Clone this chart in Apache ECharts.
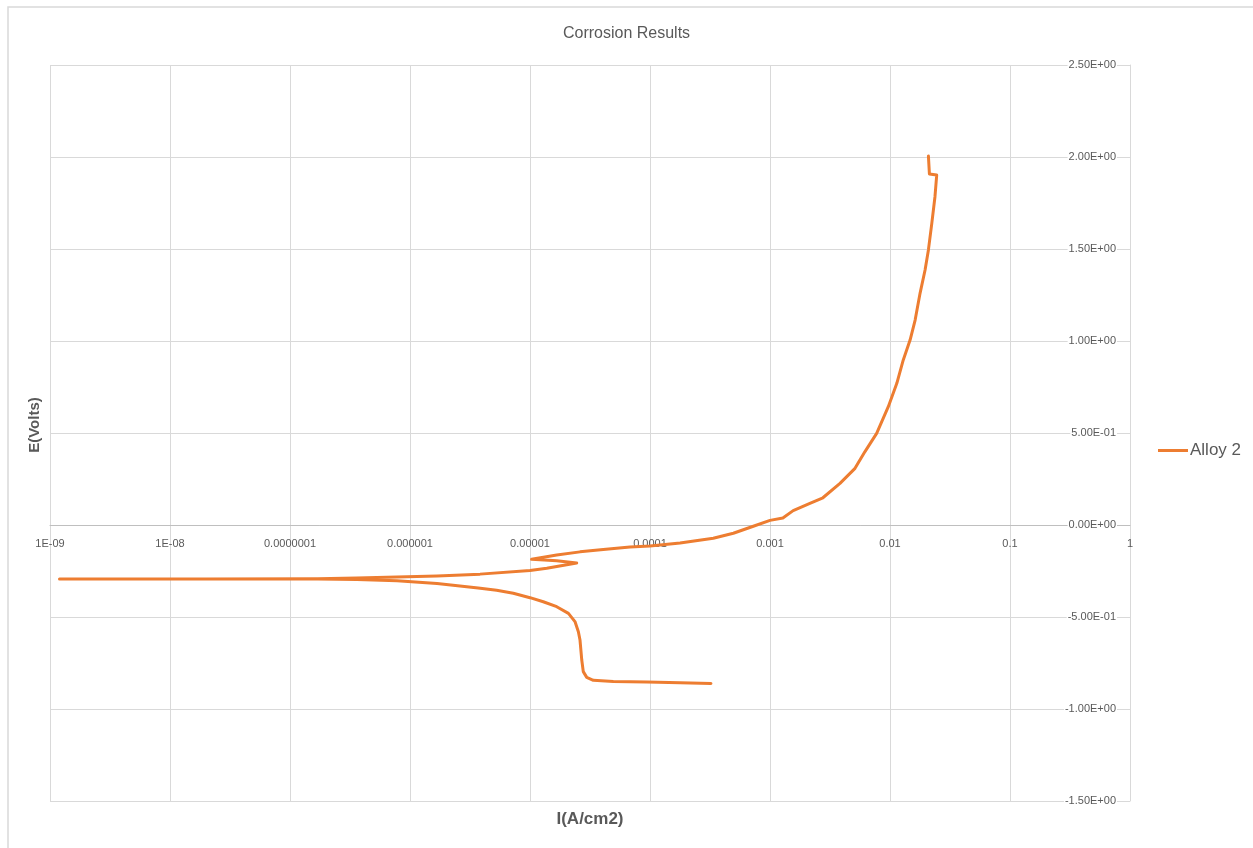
<!DOCTYPE html>
<html>
<head>
<meta charset="utf-8">
<title>Corrosion Results</title>
<script src="https://cdn.jsdelivr.net/npm/echarts@6/dist/echarts.min.js"></script>
<style>
  html, body { margin: 0; padding: 0; background: #fff; }
  #chart { width: 1253px; height: 848px; }
</style>
</head>
<body>
<div id="chart"></div>
<script>
// Potentiodynamic polarization scan, in sweep order (cathodic end -> anodic end)
const current = [
  3.22e-4, 1.78e-4, 9.4e-5, 4.95e-5, 3.37e-5, 2.97e-5, 2.78e-5, 2.70e-5, 2.61e-5, 2.53e-5,
  2.37e-5, 2.09e-5, 1.67e-5, 1.29e-5, 1.0e-5, 7.26e-6, 5.27e-6, 3.7e-6, 1.68e-6, 7.8e-7,
  3.6e-7, 1.7e-7, 2.0e-8, 1.2e-9,
  2.0e-8, 1.7e-7, 3.6e-7, 1.68e-6, 3.83e-6, 1.0e-5, 1.38e-5, 2.45e-5, 1.67e-5, 1.03e-5,
  1.67e-5, 2.61e-5, 4.08e-5, 6.81e-5, 1.0e-4, 1.78e-4, 3.37e-4, 4.95e-4, 7.26e-4, 1.0e-3,
  1.28e-3, 1.56e-3, 2.15e-3, 2.76e-3, 3.83e-3, 5.11e-3, 6.19e-3, 7.74e-3, 9.68e-3, 1.14e-2,
  1.29e-2, 1.47e-2, 1.62e-2, 1.78e-2, 1.96e-2, 2.09e-2, 2.23e-2, 2.37e-2, 2.45e-2, 2.13e-2,
  2.09e-2
];
const potential = [
  -0.861, -0.857, -0.853, -0.850, -0.844, -0.828, -0.797, -0.734, -0.625, -0.580,
  -0.525, -0.480, -0.444, -0.417, -0.395, -0.371, -0.355, -0.342, -0.318, -0.303,
  -0.296, -0.294, -0.294, -0.294,
  -0.293, -0.292, -0.288, -0.277, -0.267, -0.247, -0.235, -0.206, -0.194, -0.186,
  -0.163, -0.146, -0.133, -0.120, -0.114, -0.098, -0.072, -0.045, -0.007, 0.025,
  0.038, 0.078, 0.118, 0.148, 0.226, 0.308, 0.399, 0.498, 0.643, 0.770,
  0.897, 1.005, 1.114, 1.259, 1.386, 1.495, 1.639, 1.784, 1.902, 1.908,
  2.005
];
const seriesName = 'Alloy 2';

// Axis tick labels
const xTickLabels = ['1E-09', '1E-08', '0.0000001', '0.000001', '0.00001', '0.0001', '0.001', '0.01', '0.1', '1'];
const yTickValues = [-1.5, -1.0, -0.5, 0.0, 0.5, 1.0, 1.5, 2.0, 2.5];
const yTickLabels = ['-1.50E+00', '-1.00E+00', '-5.00E-01', '0.00E+00', '5.00E-01', '1.00E+00', '1.50E+00', '2.00E+00', '2.50E+00'];

const points = current.map((c, i) => [c, potential[i]]);

const textColor = '#595959';
const gridColor = '#d9d9d9';
const font = '"Liberation Sans", Arial, sans-serif';

const gridTop = 65, gridBottom = 47, chartHeight = 848;
const yMin = -1.5, yMax = 2.5;
// the current axis crosses the potential axis at 0 V
const plotHeight = chartHeight - gridTop - gridBottom;
const xAxisOffset = -Math.round(plotHeight * (0 - yMin) / (yMax - yMin));

const chart = echarts.init(document.getElementById('chart'), null, { renderer: 'canvas' });
chart.setOption({
  animation: false,
  backgroundColor: '#ffffff',
  textStyle: { fontFamily: font },
  title: {
    text: 'Corrosion Results',
    left: 'center',
    top: 21,
    textStyle: { fontSize: 16, fontWeight: 'normal', color: textColor, fontFamily: font }
  },
  grid: { left: 50, right: 123, top: gridTop, bottom: gridBottom },
  legend: {
    orient: 'vertical',
    left: 1153,
    top: 437,
    itemWidth: 30,
    itemHeight: 3,
    itemGap: 4,
    textStyle: { fontSize: 17, color: textColor, fontFamily: font, padding: [0, 0, 0, -3] },
    data: [{ name: seriesName, icon: 'rect' }]
  },
  xAxis: {
    type: 'log',
    logBase: 10,
    min: 1e-9,
    max: 1,
    splitNumber: 9,
    position: 'bottom',
    offset: xAxisOffset,
    axisLine: { onZero: false, lineStyle: { color: '#bfbfbf', width: 1 } },
    axisTick: { show: false },
    axisLabel: {
      fontSize: 11,
      color: textColor,
      margin: 13,
      showMinLabel: true,
      showMaxLabel: true,
      formatter: function (v) {
        const e = Math.round(Math.log10(v));
        return xTickLabels[e + 9] !== undefined ? xTickLabels[e + 9] : '';
      }
    },
    splitLine: { show: true, lineStyle: { color: gridColor, width: 1 } }
  },
  yAxis: {
    type: 'value',
    position: 'right',
    min: yMin,
    max: yMax,
    interval: 0.5,
    axisLine: { show: true, onZero: false, lineStyle: { color: gridColor, width: 1 } },
    axisTick: { show: false },
    axisLabel: {
      inside: true,
      fontSize: 11,
      color: textColor,
      margin: 13,
      backgroundColor: '#ffffff',
      padding: [0, 1, 0, 1],
      formatter: function (v) {
        const i = yTickValues.findIndex(t => Math.abs(t - v) < 1e-6);
        return i >= 0 ? yTickLabels[i] : '';
      }
    },
    splitLine: { show: true, lineStyle: { color: gridColor, width: 1 } }
  },
  graphic: [
    {
      type: 'rect',
      silent: true,
      shape: { x: 8, y: 7, width: 1300, height: 900 },
      style: { fill: 'none', stroke: gridColor, lineWidth: 1.5 },
      z: -1
    },
    {
      type: 'text',
      x: 35,
      y: 425,
      rotation: Math.PI / 2,
      style: {
        text: 'E(Volts)',
        fill: textColor,
        font: 'bold 15px ' + font,
        textAlign: 'center',
        textVerticalAlign: 'middle'
      }
    },
    {
      type: 'text',
      x: 590,
      y: 819,
      style: {
        text: 'I(A/cm2)',
        fill: textColor,
        font: 'bold 17px ' + font,
        textAlign: 'center',
        textVerticalAlign: 'middle'
      }
    }
  ],
  series: [
    {
      name: seriesName,
      type: 'line',
      data: points,
      showSymbol: false,
      symbol: 'none',
      smooth: false,
      color: '#ED7D31',
      lineStyle: { color: '#ED7D31', width: 3, join: 'round', cap: 'round' },
      z: 5
    }
  ]
});
</script>
</body>
</html>
